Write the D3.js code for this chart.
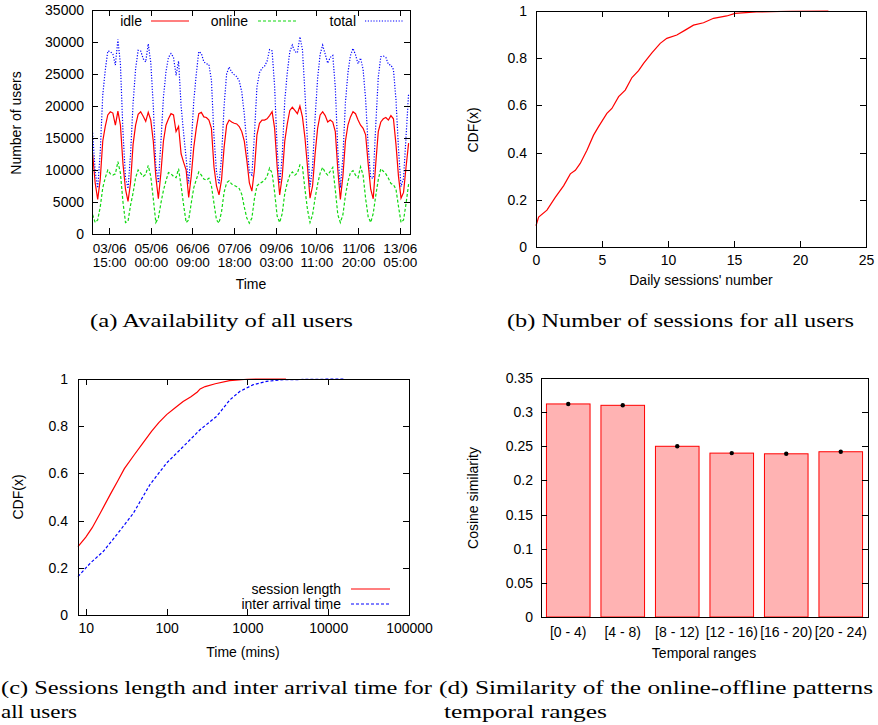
<!DOCTYPE html>
<html>
<head>
<meta charset="utf-8">
<script src="https://cdn.jsdelivr.net/npm/d3@7"></script>
<style>
body { margin: 0; background: #fff; }
text { font-family: 'Liberation Sans', Arial, sans-serif; }
text.cap { font-family: 'Liberation Serif', 'DejaVu Serif', serif; }
</style>
</head>
<body>
<script>
// ---- (a) availability, one sample every 2 hours after 03/06 00:00
var sampleHours = [2,4,6,8,10,12,14,16,18,20,22,24,26,28,30,32,34,36,38,40,42,44,46,48,
  50,52,54,56,58,60,62,64,66,68,70,72,74,76,78,80,82,84,86,88,90,92,94,96,
  98,100,102,104,106,108,110,112,114,116,118,120,122,124,126,128,130,132,134,136,138,140,142,144,
  146,148,150,152,154,156,158,160,162,164,166,168,170,172,174,176,178,180,182,184,186,188,190,192,
  194,196,198,200,202,204,206,208,210,212,214,216,218,220,222,224,226,228,230,232,234,236,238,240,
  242,244,246,248,250,252];
var idleUsers = [12500,8000,5400,8500,14500,16800,18600,19100,18900,17000,19200,17000,
  11000,7000,5100,8000,14000,17000,18700,19100,18400,17600,19000,17800,
  14500,9000,5500,9500,14500,17000,18000,18800,18600,16000,16800,12500,
  11200,10000,5700,9000,13500,16500,18800,19000,18300,18200,17800,16500,
  10500,7500,6100,8500,13500,17000,17800,17500,17300,17200,16800,16000,
  14500,11500,8000,6700,10000,15500,17300,17800,17800,18000,18500,19100,
  16500,10500,6100,9000,14500,17200,19300,19800,19300,18800,20000,18300,
  15000,10500,5600,7500,12500,16500,18600,19100,18500,17500,17800,17500,
  16000,10000,5400,9000,14500,17000,18300,19100,18800,17800,17000,16500,
  15500,11000,7000,5500,11000,16000,17500,18000,18200,17800,18500,18000,
  14000,9000,5600,6500,10500,14200];
var onlineUsers = [3000,1800,2200,4200,7200,8800,10000,9400,9200,9400,11300,9500,
  5000,1800,2000,4500,6400,8800,10000,9500,9000,9300,10700,9000,
  5500,1800,2500,4800,6800,8300,9600,9400,9000,8800,10200,7500,
  4500,1800,2200,4800,7200,8500,9700,9200,8600,8400,8700,7500,
  4800,2200,1700,3500,6500,8000,8300,7800,7600,7400,7100,6200,
  4200,2500,1700,2500,5500,7500,7900,8100,8400,9000,10300,9500,
  6500,2800,1800,3200,6300,8000,9200,9700,9200,9500,10800,10500,
  7000,3800,1800,3000,5600,7800,9500,10400,9600,9200,9800,10400,
  6900,3000,1800,3000,6000,8200,9600,9900,9200,8800,10500,9200,
  5500,2700,1800,3200,6000,8500,10200,9800,9400,8700,7900,7700,
  7000,4300,1800,2200,4800,7800];
var totalUsers = [15800,9800,7200,12700,21700,25600,28600,28500,28100,26400,30400,26500,
  16000,8800,7100,12500,20400,25800,28700,28600,27400,26900,29700,26800,
  20000,10800,8000,14300,21300,25300,27600,28200,27600,24800,27000,20000,
  15700,11800,7900,13800,20700,25000,28500,28200,26900,26600,26500,24000,
  15300,9700,7800,12000,20000,25000,26100,25300,24900,24600,23900,22200,
  18700,14000,9700,9200,15500,23000,25200,25900,26200,27000,28800,28600,
  23000,13300,7900,12200,20800,25200,28500,29500,28500,28300,30800,28800,
  22000,14300,7400,10500,18100,24300,28100,29500,28100,26700,27600,27900,
  22900,13000,7200,12000,20500,25200,27900,29000,28000,26600,27500,25700,
  21000,13700,8800,8700,17000,24500,27700,27800,27600,26500,26400,25700,
  21000,13300,7400,8700,15300,22000];
var timeTicks = ['03/06 15:00','05/06 00:00','06/06 09:00','07/06 18:00',
  '09/06 03:00','10/06 11:00','11/06 20:00','13/06 05:00'];
var usersTicks = [0,5000,10000,15000,20000,25000,30000,35000];

// ---- (b) daily sessions CDF
var sessionsX = [0,0.2,0.83,1.46,2.1,2.6,2.98,3.35,3.86,4.36,4.74,5.37,5.75,6.26,6.76,7.27,
  7.77,8.15,8.78,9.41,9.91,10.67,11.3,11.93,12.69,13.45,14.45,15.08,16.7,19.25,22.15];
var sessionsCdf = [0.09,0.127,0.156,0.21,0.26,0.31,0.325,0.354,0.41,0.474,0.51,0.566,0.587,0.637,
  0.665,0.718,0.747,0.778,0.823,0.863,0.884,0.898,0.919,0.94,0.95,0.969,0.979,0.99,0.996,0.999,1];
var sessionsTicks = [0,5,10,15,20,25];
var cdfTicks = [0,0.2,0.4,0.6,0.8,1];

// ---- (c) session length / inter arrival time CDF
var lengthMins = [8,10,12,15,20,25,30,40,50,65,80,100,130,160,200,240,260,300,400,600,1000,3000];
var lengthCdf = [0.29,0.33,0.37,0.43,0.51,0.57,0.62,0.68,0.725,0.778,0.815,0.849,0.88,0.905,
  0.925,0.945,0.958,0.968,0.98,0.993,0.999,1];
var arrivalMins = [8,11.3,16.4,24,38.7,62,100,161,259,417,608,809,1183,1730,2786,15400];
var arrivalCdf = [0.163,0.219,0.269,0.339,0.431,0.552,0.644,0.714,0.785,0.842,0.912,0.948,
  0.976,0.99,0.997,1];
var minsTicks = [10,100,1000,10000,100000];

// ---- (d) cosine similarity per temporal range
var ranges = ['[0 - 4)','[4 - 8)','[8 - 12)','[12 - 16)','[16 - 20)','[20 - 24)'];
var similarity = [0.312,0.31,0.25,0.24,0.239,0.242];
var similarityTicks = [0,0.05,0.1,0.15,0.2,0.25,0.3,0.35];

var fmt = d3.format('~g');
var svg = d3.select('body').append('svg')
  .attr('width', 878)
  .attr('height', 725)
  .style('background-color', '#fff');

function styleAxis(s) {
  s.attr('font-size', 14).attr('font-family', null);
  s.select('.domain').remove();
  s.selectAll('line').attr('shape-rendering', 'crispEdges');
}

// frame with inward ticks on all four sides
function frame(g, x, y, w, h, o) {
  if (o.xTicks) {
    g.append('g').attr('class', 'xaxis').attr('transform', 'translate(0,' + h + ')')
      .call(d3.axisBottom(x).tickValues(o.xTicks).tickSize(-6).tickPadding(o.xPad).tickFormat(o.xFormat || fmt))
      .call(styleAxis);
    g.append('g')
      .call(d3.axisTop(x).tickValues(o.xTicks).tickSize(-6).tickFormat(''))
      .call(styleAxis);
  }
  g.append('g')
    .call(d3.axisLeft(y).tickValues(o.yTicks).tickSize(-6).tickPadding(o.yPad).tickFormat(fmt))
    .call(styleAxis);
  g.append('g').attr('transform', 'translate(' + w + ',0)')
    .call(d3.axisRight(y).tickValues(o.yTicks).tickSize(-6).tickFormat(''))
    .call(styleAxis);
  g.append('rect').attr('width', w).attr('height', h)
    .attr('fill', 'none').attr('stroke', '#000').attr('shape-rendering', 'crispEdges');
}

function label(x, y, txt, rot) {
  svg.append('text')
    .attr('transform', 'translate(' + x + ',' + y + ')' + (rot ? ' rotate(-90)' : ''))
    .attr('text-anchor', 'middle').attr('dy', '0.35em')
    .attr('font-size', 14).text(txt);
}

function caption(x, y, txt, len) {
  svg.append('text').attr('class', 'cap').attr('x', x).attr('y', y)
    .attr('font-size', 18)
    .attr('textLength', len).attr('lengthAdjust', 'spacingAndGlyphs')
    .text(txt);
}

/************ (a) ************/
var parseTick = d3.utcParse('%d/%m %H:%M');
var t0 = parseTick('03/06 00:00');
function atHour(hh) { return new Date(t0.getTime() + hh * 3600e3); }

var aW = 318, aH = 224;
var ga = svg.append('g').attr('transform', 'translate(92,10)');
var xa = d3.scaleUtc().domain([atHour(1.5), atHour(253.1)]).range([0, aW]);
var ya = d3.scaleLinear().domain([0, 35000]).range([aH, 0]);

var series = [
  {name: 'idle', values: idleUsers, color: '#ff0000', dash: null},
  {name: 'online', values: onlineUsers, color: '#10d810', dash: '3,2'},
  {name: 'total', values: totalUsers, color: '#0000ff', dash: '1.2,1.6'}
];
series.forEach(function(s) {
  var line = d3.line()
    .x(function(d, i) { return xa(atHour(sampleHours[i])); })
    .y(function(d) { return ya(d); });
  ga.append('path').datum(s.values)
    .attr('d', line)
    .attr('fill', 'none')
    .attr('stroke', s.color)
    .attr('stroke-width', 1.2)
    .attr('stroke-dasharray', s.dash);
});

frame(ga, xa, ya, aW, aH, {
  xTicks: timeTicks.map(function(t) { return parseTick(t); }), xPad: 9,
  yTicks: usersTicks, yPad: 8
});
// two-line date/time labels
ga.select('.xaxis').selectAll('.tick text')
  .each(function(d) {
    var t = d3.select(this).text(null).attr('font-size', 13.5);
    t.append('tspan').attr('x', 0).text(d3.utcFormat('%d/%m')(d));
    t.append('tspan').attr('x', 0).attr('dy', '1.06em').text(d3.utcFormat('%H:%M')(d));
  });

// legend
var legA = [{x: 50, l: 59}, {x: 156, l: 166}, {x: 264, l: 273}];
series.forEach(function(s, i) {
  ga.append('text').attr('x', legA[i].x).attr('y', 11).attr('dy', '0.35em')
    .attr('text-anchor', 'end').attr('font-size', 14).text(s.name);
  ga.append('line').attr('x1', legA[i].l).attr('x2', legA[i].l + 38)
    .attr('y1', 11).attr('y2', 11)
    .attr('stroke', s.color).attr('stroke-width', 1.2).attr('stroke-dasharray', s.dash);
});
label(16, 123, 'Number of users', true);
label(251, 284, 'Time');

/************ (b) ************/
var bW = 330, bH = 236;
var gb = svg.append('g').attr('transform', 'translate(536,11)');
var xb = d3.scaleLinear().domain([0, 25]).range([0, bW]);
var yb = d3.scaleLinear().domain([0, 1]).range([bH, 0]);
gb.append('path').datum(sessionsCdf)
  .attr('d', d3.line()
    .x(function(d, i) { return xb(sessionsX[i]); })
    .y(function(d) { return yb(d); }))
  .attr('fill', 'none').attr('stroke', '#ff0000').attr('stroke-width', 1.2);
frame(gb, xb, yb, bW, bH, {xTicks: sessionsTicks, xPad: 8, yTicks: cdfTicks, yPad: 9});
label(473, 130, 'CDF(x)', true);
label(701, 280, "Daily sessions' number");

/************ (c) ************/
var cW = 331, cH = 236;
var gc = svg.append('g').attr('transform', 'translate(78,379)');
var xc = d3.scaleLog().domain([8, 100000]).range([0, cW]);
var yc = d3.scaleLinear().domain([0, 1]).range([cH, 0]);
var cdfs = [
  {name: 'session length', x: lengthMins, y: lengthCdf, color: '#ff0000', dash: null},
  {name: 'inter arrival time', x: arrivalMins, y: arrivalCdf, color: '#0000ff', dash: '3,2'}
];
cdfs.forEach(function(s, k) {
  gc.append('path').datum(s.y)
    .attr('d', d3.line()
      .x(function(d, i) { return xc(s.x[i]); })
      .y(function(d) { return yc(d); }))
    .attr('fill', 'none').attr('stroke', s.color).attr('stroke-width', 1.2)
    .attr('stroke-dasharray', s.dash);
  gc.append('text').attr('x', 263).attr('y', 210 + k * 15).attr('dy', '0.35em')
    .attr('text-anchor', 'end').attr('font-size', 14).text(s.name);
  gc.append('line').attr('x1', 273).attr('x2', 312)
    .attr('y1', 210 + k * 15).attr('y2', 210 + k * 15)
    .attr('stroke', s.color).attr('stroke-width', 1.2).attr('stroke-dasharray', s.dash);
});
frame(gc, xc, yc, cW, cH, {xTicks: minsTicks, xPad: 8, xFormat: d3.format('d'), yTicks: cdfTicks, yPad: 10});
label(18, 497, 'CDF(x)', true);
label(243, 652, 'Time (mins)');

/************ (d) ************/
var dW = 327, dH = 239;
var gd = svg.append('g').attr('transform', 'translate(541,378)');
var xd = d3.scaleBand().domain(ranges).range([0, dW]).paddingInner(0.2).paddingOuter(0.1);
var yd = d3.scaleLinear().domain([0, 0.35]).range([dH, 0]);
gd.selectAll('.bar').data(similarity).enter().append('rect')
  .attr('class', 'bar')
  .attr('x', function(d, i) { return xd(ranges[i]); })
  .attr('y', function(d) { return yd(d); })
  .attr('width', xd.bandwidth())
  .attr('height', function(d) { return dH - yd(d); })
  .attr('fill', '#ffb3b3')
  .attr('stroke', '#ff0000')
  .attr('stroke-width', 1);
gd.selectAll('.dot').data(similarity).enter().append('circle')
  .attr('class', 'dot')
  .attr('cx', function(d, i) { return xd(ranges[i]) + xd.bandwidth() / 2; })
  .attr('cy', function(d) { return yd(d); })
  .attr('r', 2.2)
  .attr('fill', '#000');
gd.append('g').attr('transform', 'translate(0,' + dH + ')')
  .call(d3.axisBottom(xd).tickSize(0).tickPadding(10))
  .call(styleAxis);
frame(gd, xd, yd, dW, dH, {yTicks: similarityTicks, yPad: 8});
label(473, 498, 'Cosine similarity', true);
label(704, 653, 'Temporal ranges');

/************ captions ************/
caption(90, 327, '(a) Availability of all users', 263);
caption(507, 327, '(b) Number of sessions for all users', 347);
caption(1, 694, '(c) Sessions length and inter arrival time for', 431);
caption(1, 718, 'all users', 76);
caption(439, 694, '(d) Similarity of the online-offline patterns', 434);
caption(444, 718, 'temporal ranges', 163);
</script>
</body>
</html>
